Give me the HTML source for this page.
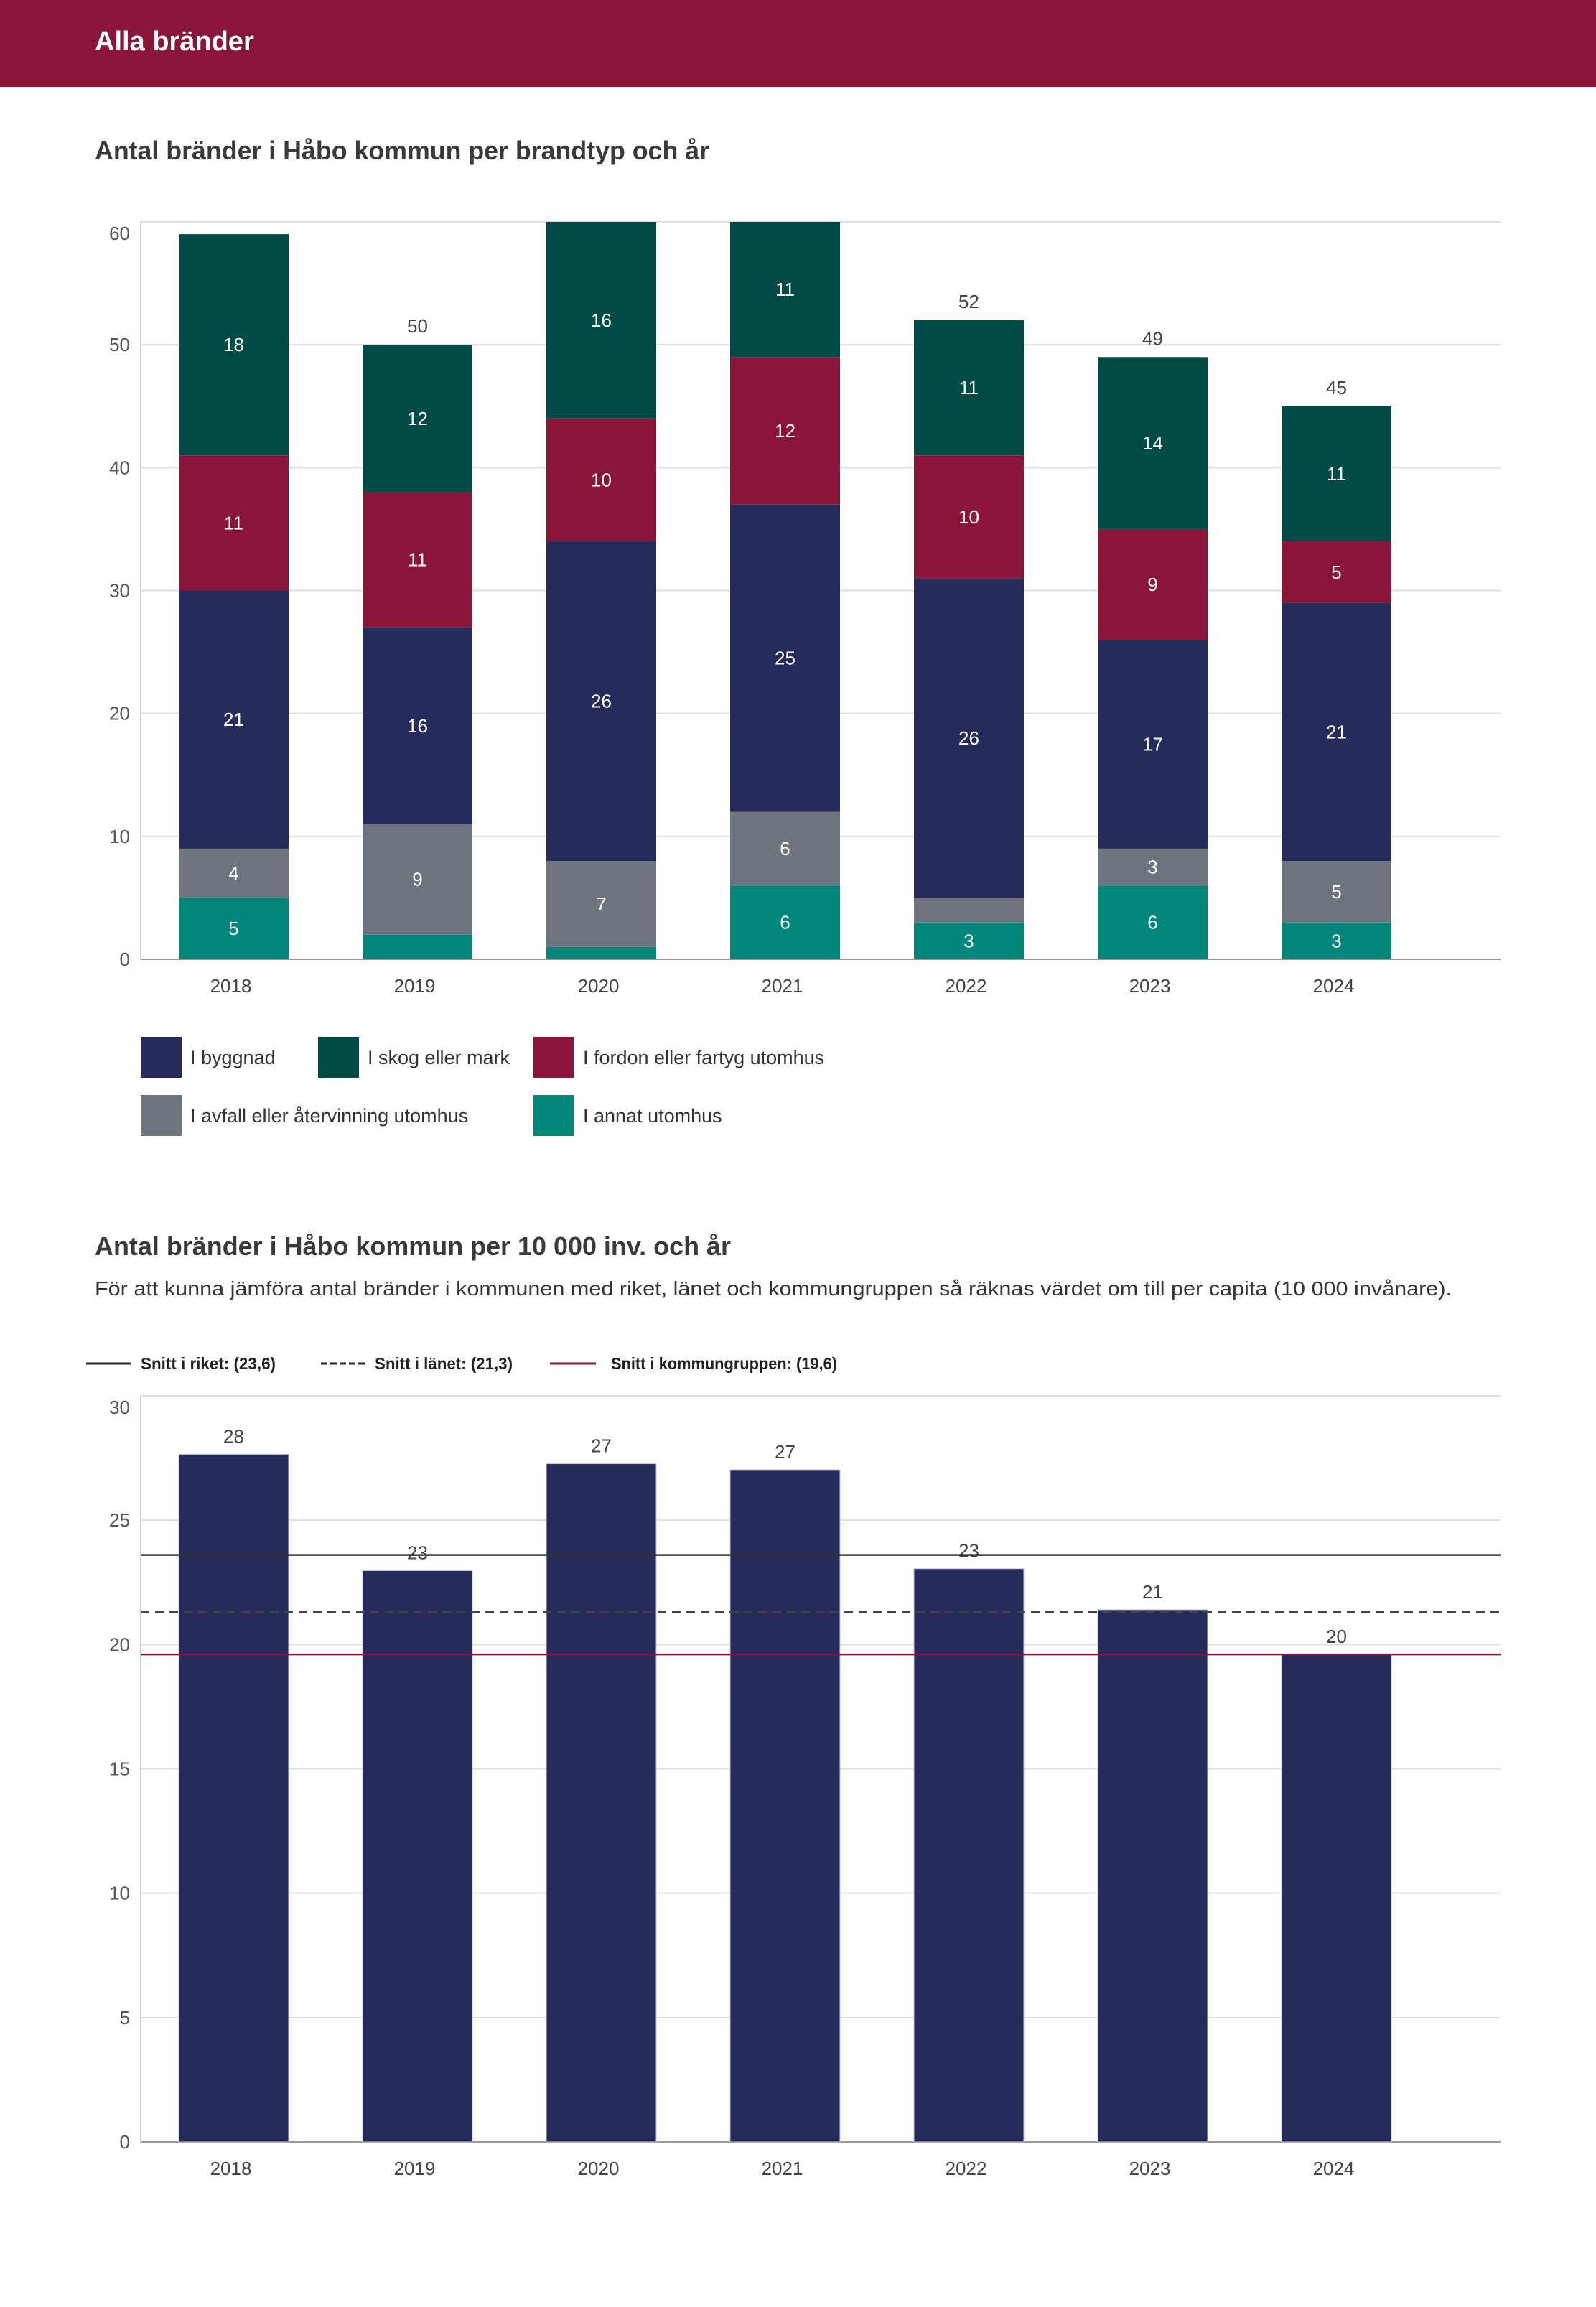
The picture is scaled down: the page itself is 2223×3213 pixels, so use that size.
<!DOCTYPE html>
<html><head><meta charset="utf-8"><style>
html,body{margin:0;padding:0;background:#fff;}
svg{display:block;font-family:"Liberation Sans",sans-serif;}
</style></head><body>
<svg id="root" width="2223" height="3213" viewBox="0 0 2223 3213">
<rect x="0" y="0" width="2223" height="121" fill="#8b1538"/>
<text x="132" y="70" font-size="38" font-weight="bold" fill="#fff">Alla bränder</text>
<text x="132" y="222" font-size="36" font-weight="bold" fill="#3a3a3a" textLength="856" lengthAdjust="spacingAndGlyphs">Antal bränder i Håbo kommun per brandtyp och år</text>
<g id="c1"></g>
<g>
 <rect x="196" y="1444" width="57" height="57" fill="#252c5b"/>
 <text x="265" y="1482" font-size="27" fill="#333">I byggnad</text>
 <rect x="443" y="1444" width="57" height="57" fill="#004b45"/>
 <text x="512" y="1482" font-size="27" fill="#333">I skog eller mark</text>
 <rect x="743" y="1444" width="57" height="57" fill="#8b1538"/>
 <text x="812" y="1482" font-size="27" fill="#333">I fordon eller fartyg utomhus</text>
 <rect x="196" y="1525" width="57" height="57" fill="#6e747d"/>
 <text x="265" y="1563" font-size="27" fill="#333">I avfall eller återvinning utomhus</text>
 <rect x="743" y="1525" width="57" height="57" fill="#00877a"/>
 <text x="812" y="1563" font-size="27" fill="#333">I annat utomhus</text>
</g>
<text x="132" y="1748" font-size="36" font-weight="bold" fill="#3a3a3a" textLength="886" lengthAdjust="spacingAndGlyphs">Antal bränder i Håbo kommun per 10 000 inv. och år</text>
<text x="132" y="1804" font-size="28" fill="#333" textLength="1890" lengthAdjust="spacingAndGlyphs">För att kunna jämföra antal bränder i kommunen med riket, länet och kommungruppen så räknas värdet om till per capita (10 000 invånare).</text>
<g>
 <line x1="120" y1="1899" x2="183" y2="1899" stroke="#222" stroke-width="3"/>
 <text x="196" y="1907" font-size="23" font-weight="bold" fill="#222" textLength="188" lengthAdjust="spacingAndGlyphs">Snitt i riket: (23,6)</text>
 <line x1="447" y1="1899" x2="508" y2="1899" stroke="#222" stroke-width="3" stroke-dasharray="9,4"/>
 <text x="522" y="1907" font-size="23" font-weight="bold" fill="#222" textLength="192" lengthAdjust="spacingAndGlyphs">Snitt i länet: (21,3)</text>
 <line x1="766" y1="1899" x2="830" y2="1899" stroke="#8b1538" stroke-width="3"/>
 <text x="851" y="1907" font-size="23" font-weight="bold" fill="#222" textLength="315" lengthAdjust="spacingAndGlyphs">Snitt i kommungruppen: (19,6)</text>
</g>
<g id="c2"></g>
</svg>
<script>
const years = ["2018","2019","2020","2021","2022","2023","2024"];
const annat = [5,2,1,6,3,6,3];
const avfall = [4,9,7,6,2,3,5];
const byggnad = [21,16,26,25,26,17,21];
const fordon = [11,11,10,12,10,9,5];
const skog = [18,12,16,11,11,14,11];
const ticks1 = [0,10,20,30,40,50,60];
const perCapita = [27.65,22.97,27.27,27.03,23.05,21.4,19.6];
const ticks2 = [0,5,10,15,20,25,30];
const avgRiket = 23.6, avgLanet = 21.3, avgGrupp = 19.6;

const NS="http://www.w3.org/2000/svg";
function mk(tag, attrs, parent){const e=document.createElementNS(NS,tag);for(const k in attrs)e.setAttribute(k,attrs[k]);parent.appendChild(e);return e;}
const PL=196, PR=2090, BW=153;
function bx(i){return 249+256*i;}

// Chart 1
const c1=document.getElementById('c1');
const z1=1336, t1=309, max1=60;
function y1(v){return z1-(z1-t1)*v/max1;}
ticks1.forEach(t=>{
  const g=mk('line',{x1:PL,x2:PR,y1:y1(t),y2:y1(t),stroke:t===0?'#999':'#dedede','stroke-width':2},c1);
  
  
  const tx=mk('text',{x:181,y:y1(t)+(t===60?25:9),'font-size':26,fill:'#555','text-anchor':'end'},c1);
  tx.textContent=t;
  
  
});
const ax=mk('line',{x1:PL,x2:PL,y1:t1,y2:z1,stroke:'#ccc','stroke-width':2},c1);


const series=[[annat,'#00877a','annat'],[avfall,'#6e747d','avfall'],[byggnad,'#252c5b','byggnad'],[fordon,'#8b1538','fordon'],[skog,'#004b45','skog']];
years.forEach((yr,i)=>{
  let base=0;
  series.forEach(([arr,col,nm])=>{
    const v=arr[i];
    const r=mk('rect',{x:bx(i),y:y1(base+v),width:BW,height:y1(base)-y1(base+v),fill:col},c1);
    
    
    if(v>=3){
      const tx=mk('text',{x:bx(i)+BW/2,y:(y1(base)+y1(base+v))/2+9,'font-size':26,fill:'#fff','text-anchor':'middle'},c1);
      tx.textContent=v;
      
      
    }
    base+=v;
  });
  if(base<=56){
    const tt=mk('text',{x:bx(i)+BW/2,y:y1(base)-17,'font-size':26,fill:'#444','text-anchor':'middle'},c1);
    tt.textContent=base;
    
    
  }
  const xl=mk('text',{x:bx(i)+BW/2-4,y:1382,'font-size':26,fill:'#444','text-anchor':'middle'},c1);
  xl.textContent=yr;
  
  
});

// Chart 2
const c2=document.getElementById('c2');
const z2=2983, t2=1944, max2=30;
function y2(v){return z2-(z2-t2)*v/max2;}
ticks2.forEach(t=>{
  const g=mk('line',{x1:PL,x2:PR,y1:y2(t),y2:y2(t),stroke:t===0?'#999':'#dedede','stroke-width':2},c2);
  
  
  const tx=mk('text',{x:181,y:y2(t)+(t===30?25:9),'font-size':26,fill:'#555','text-anchor':'end'},c2);
  tx.textContent=t;
  
  
});
const ax2=mk('line',{x1:PL,x2:PL,y1:t2,y2:z2,stroke:'#ccc','stroke-width':2},c2);


years.forEach((yr,i)=>{
  const v=perCapita[i];
  const r=mk('rect',{x:bx(i),y:y2(v),width:BW,height:z2-y2(v),fill:'#252c5b',stroke:'#c5c8dc','stroke-width':1},c2);
  
  
  const tt=mk('text',{x:bx(i)+BW/2,y:y2(v)-16,'font-size':26,fill:'#444','text-anchor':'middle'},c2);
  tt.textContent=Math.round(v);
  
  
  const xl=mk('text',{x:bx(i)+BW/2-4,y:3029,'font-size':26,fill:'#444','text-anchor':'middle'},c2);
  xl.textContent=yr;
  
  
});
const l1=mk('line',{x1:PL,x2:PR,y1:y2(avgRiket),y2:y2(avgRiket),stroke:'#333','stroke-width':2.5},c2);


const l2=mk('line',{x1:PL,x2:PR,y1:y2(avgLanet),y2:y2(avgLanet),stroke:'#444','stroke-width':2.5,'stroke-dasharray':'12,8'},c2);


const l3=mk('line',{x1:PL,x2:PR,y1:y2(avgGrupp),y2:y2(avgGrupp),stroke:'#8b1538','stroke-width':2.5},c2);


</script>
</body></html>
